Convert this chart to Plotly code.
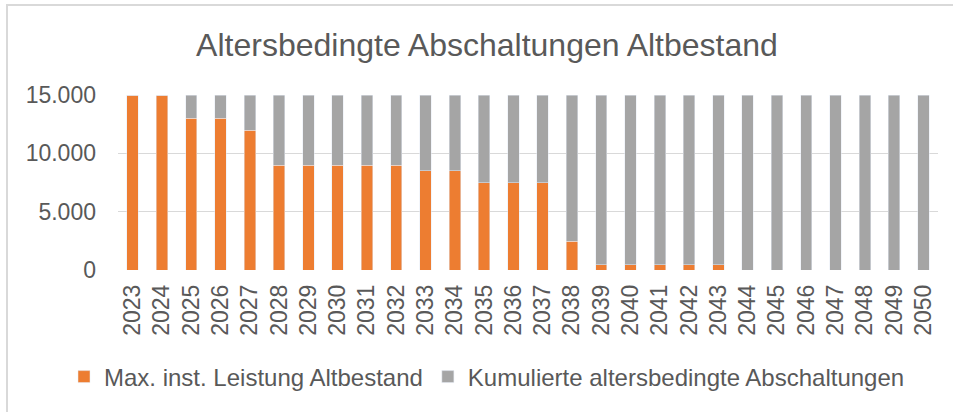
import plotly.graph_objects as go

years = [str(y) for y in range(2023, 2051)]
altbestand = [15000, 15000, 13000, 13000, 12000, 9000, 9000, 9000, 9000, 9000,
              8500, 8500, 7500, 7500, 7500, 2450, 450, 450, 450, 450,
              450, 0, 0, 0, 0, 0, 0, 0]
abschaltungen = [0, 0, 2000, 2000, 3000, 6000, 6000, 6000, 6000, 6000,
                 6500, 6500, 7500, 7500, 7500, 12550, 14550, 14550, 14550, 14550,
                 14550, 15000, 15000, 15000, 15000, 15000, 15000, 15000]

name_a = "Max. inst. Leistung Altbestand"
name_b = "Kumulierte altersbedingte Abschaltungen"
title = "Altersbedingte Abschaltungen Altbestand"

W, H = 953, 412
L, R, T, B = 118, 15, 95, 142
pw, ph = W - L - R, H - T - B

font = "Liberation Sans, Arial, sans-serif"
txt = "#595959"

fig = go.Figure()
fig.add_trace(go.Bar(x=years, y=altbestand, name=name_a, marker_color="#ED7D31"))
fig.add_trace(go.Bar(x=years, y=abschaltungen, name=name_b, marker_color="#A5A5A5"))

def px_x(p):
    return (p - L) / pw

def px_y(p):
    return (H - B - p) / ph

fig.update_layout(
    width=W, height=H,
    barmode="stack", bargap=0.61,
    separators=",.",
    paper_bgcolor="white", plot_bgcolor="white",
    margin=dict(l=L, r=R, t=T, b=B, autoexpand=False),
    font=dict(family=font, color=txt, size=23),
    title=dict(text=title, x=487 / W, xanchor="center", y=1 - 45 / H, yanchor="middle",
               yref="container", xref="container",
               font=dict(size=32, color=txt, family=font)),
    xaxis=dict(type="category", tickangle=-90, showgrid=False, zeroline=False,
               showline=False, ticks="", tickfont=dict(size=23, color=txt),
               ticklabelstandoff=9),
    yaxis=dict(range=[0, 15000], tickvals=[0, 5000, 10000, 15000], tickformat=",d",
               showgrid=True, gridcolor="#D9D9D9", gridwidth=1.3, zeroline=False,
               showline=False, ticks="", tickfont=dict(size=23, color=txt),
               ticklabelstandoff=21),
    legend=dict(orientation="h", x=px_x(64), xanchor="left", y=px_y(377), yanchor="middle",
                font=dict(size=24, color=txt), traceorder="normal",
                bgcolor="rgba(0,0,0,0)"),
    showlegend=True,
)

fig.add_shape(type="rect", xref="paper", yref="paper",
              x0=px_x(7), x1=px_x(W + 20), y0=px_y(H + 20), y1=px_y(5),
              line=dict(color="#D9D9D9", width=2), fillcolor="rgba(0,0,0,0)", layer="below")

fig.write_html("out.html", config={"displayModeBar": False},
               post_script="document.body.style.margin='0';")
